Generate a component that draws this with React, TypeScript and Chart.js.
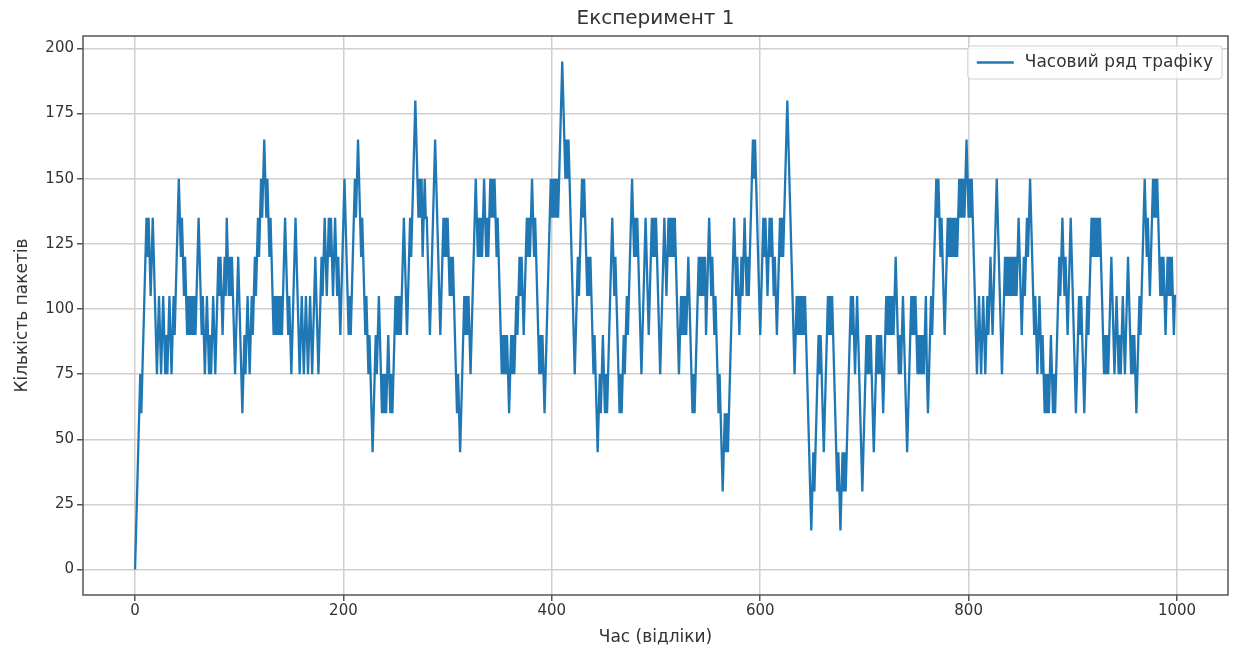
import React, { useEffect, useRef } from "react";
import { Chart, registerables } from "chart.js";

Chart.register(...registerables);

const TITLE = "Експеримент 1";
const X_LABEL = "Час (відліки)";
const Y_LABEL = "Кількість пакетів";
const SERIES_LABEL = "Часовий ряд трафіку";
const X_TICKS = [0, 200, 400, 600, 800, 1000];
const Y_TICKS = [0, 25, 50, 75, 100, 125, 150, 175, 200];

const TRAFFIC = [
  0,15,30,45,60,75,60,75,90,105,120,135,120,135,120,105,120,135,120,105,
  90,75,90,105,90,75,90,105,90,75,90,75,90,105,90,75,90,105,90,105,
  120,135,150,135,120,135,120,105,120,105,90,105,90,105,90,105,90,105,90,105,
  120,135,120,105,90,105,90,75,90,105,90,75,90,75,90,105,90,75,90,105,
  120,105,120,105,90,105,120,105,135,120,105,120,105,120,105,90,75,90,105,120,
  105,90,75,60,75,90,75,90,105,90,75,90,105,90,105,120,105,120,135,120,
  135,150,135,150,165,150,135,150,135,120,135,120,105,90,105,90,105,90,105,90,
  105,90,105,120,135,120,105,90,105,90,75,90,105,120,135,120,105,90,75,90,
  105,90,75,90,105,90,75,90,105,90,75,90,105,120,105,90,75,90,105,120,
  105,120,135,120,105,120,135,120,135,120,105,120,135,120,105,120,105,90,105,120,
  135,150,135,120,105,90,105,90,105,120,135,150,135,150,165,150,135,120,135,120,
  105,90,105,90,75,90,75,60,45,60,75,90,75,90,105,90,75,60,75,60,
  75,60,75,90,75,60,75,60,75,90,105,90,105,90,105,90,105,120,135,120,
  105,90,105,120,135,120,135,150,165,180,165,150,135,150,135,150,120,135,150,135,
  135,120,105,90,105,120,135,150,165,150,135,120,105,90,105,120,135,120,135,120,
  135,120,105,120,105,120,105,90,75,60,75,60,45,60,75,90,105,90,105,90,
  105,90,75,90,105,120,135,150,135,120,135,120,135,120,135,150,135,120,135,120,
  135,150,135,150,135,150,135,120,135,120,105,90,75,90,75,90,75,90,75,60,
  75,90,75,90,75,90,105,90,105,120,105,120,105,90,105,120,135,120,135,120,
  135,150,135,120,135,120,105,90,75,90,75,90,75,60,75,90,105,120,135,150,
  135,150,135,150,135,150,135,150,165,180,195,180,165,150,165,150,165,150,135,120,
  105,90,75,90,105,120,105,120,135,150,135,150,135,120,105,120,105,120,105,90,
  75,90,75,60,45,60,75,60,75,90,75,60,75,60,75,90,105,120,135,120,
  105,120,105,90,75,60,75,60,75,90,75,90,105,90,105,120,135,150,135,120,
  135,120,135,120,105,90,75,90,105,120,135,120,105,90,105,120,135,120,135,120,
  135,120,105,90,75,90,105,120,135,120,105,120,135,120,135,120,135,120,135,120,
  105,90,75,90,105,90,105,90,105,90,105,120,105,90,75,60,75,60,75,90,
  105,120,105,120,105,120,105,120,90,105,120,135,120,105,120,105,90,105,90,75,
  60,75,60,45,30,45,60,45,60,45,60,75,90,105,120,135,120,105,120,105,
  90,105,120,105,120,135,120,105,120,105,120,135,150,165,150,165,150,135,120,105,
  90,105,120,135,120,135,120,105,120,135,120,135,120,105,120,105,90,105,120,135,
  120,135,120,135,150,165,180,165,150,135,120,105,90,75,90,105,90,105,90,105,
  90,105,90,105,90,75,60,45,30,15,30,45,30,45,60,75,90,75,90,75,
  60,45,60,75,90,105,90,105,90,105,90,75,60,45,30,45,30,15,30,45,
  30,45,30,45,60,75,90,105,90,105,90,75,90,105,90,75,60,45,30,45,
  60,75,90,75,90,75,90,75,60,45,60,75,90,75,90,75,90,75,60,75,
  90,105,90,105,90,105,90,105,90,105,120,105,90,75,90,75,90,105,90,75,
  60,45,60,75,90,105,90,105,90,105,90,75,90,75,90,75,90,75,90,105,
  75,60,75,90,105,90,105,120,135,150,135,150,135,120,135,120,105,90,105,120,
  135,120,135,120,135,120,135,120,135,120,135,150,135,150,135,150,135,150,165,150,
  135,150,135,150,135,120,105,90,75,90,105,90,75,90,105,90,75,90,105,90,
  105,120,105,90,105,120,135,150,135,120,105,90,75,90,105,120,105,120,105,120,
  105,120,105,120,105,120,105,120,135,120,105,90,105,120,105,120,135,120,135,150,
  135,120,105,90,105,90,75,90,105,90,75,90,75,60,75,60,75,60,75,90,
  75,60,75,60,75,90,105,120,105,120,135,120,105,120,105,90,105,120,135,120,
  105,90,75,60,75,90,105,90,105,90,75,60,75,90,105,90,105,120,135,120,
  135,120,135,120,135,120,135,120,105,90,75,90,75,90,75,90,105,120,105,90,
  75,90,105,90,75,90,75,90,105,90,75,90,105,120,105,90,75,90,75,90,
  75,60,75,90,105,90,105,120,135,150,135,120,135,120,105,120,135,150,135,150,
  135,150,135,120,105,120,105,120,105,90,105,120,105,120,105,120,105,90,105,105,
];

const TIME = TRAFFIC.map((_, i) => i);

const FONT = "'DejaVu Sans', sans-serif";
const TEXT_COLOR = "#333333";
const LINE_COLOR = "#1f77b4";

const frameTitleLegend = {
  id: "frameTitleLegend",
  afterDatasetsDraw(chart: any) {
    const { ctx, chartArea } = chart;
    const { left, top, right, bottom } = chartArea;
    ctx.save();
    ctx.strokeStyle = "#555555";
    ctx.lineWidth = 1.5;
    ctx.strokeRect(left, top, right - left, bottom - top);

    // title centred over the plot area
    ctx.font = `20px ${FONT}`;
    ctx.fillStyle = TEXT_COLOR;
    ctx.textAlign = "center";
    ctx.textBaseline = "middle";
    ctx.fillText(TITLE, (left + right) / 2, 19);

    // legend
    ctx.font = `17px ${FONT}`;
    const tw = ctx.measureText(SERIES_LABEL).width;
    const w = tw + 66;
    const h = 33;
    const x = right - 6 - w;
    const y = top + 10;
    ctx.fillStyle = "rgba(255,255,255,0.85)";
    ctx.strokeStyle = "#d0d0d0";
    ctx.lineWidth = 1;
    ctx.beginPath();
    const r = 3;
    ctx.moveTo(x + r, y);
    ctx.lineTo(x + w - r, y);
    ctx.quadraticCurveTo(x + w, y, x + w, y + r);
    ctx.lineTo(x + w, y + h - r);
    ctx.quadraticCurveTo(x + w, y + h, x + w - r, y + h);
    ctx.lineTo(x + r, y + h);
    ctx.quadraticCurveTo(x, y + h, x, y + h - r);
    ctx.lineTo(x, y + r);
    ctx.quadraticCurveTo(x, y, x + r, y);
    ctx.closePath();
    ctx.fill();
    ctx.stroke();

    ctx.strokeStyle = LINE_COLOR;
    ctx.lineWidth = 2.3;
    ctx.beginPath();
    ctx.moveTo(x + 9, y + h / 2);
    ctx.lineTo(x + 46, y + h / 2);
    ctx.stroke();

    ctx.fillStyle = TEXT_COLOR;
    ctx.textAlign = "left";
    ctx.textBaseline = "middle";
    ctx.fillText(SERIES_LABEL, x + 57, y + h / 2);
    ctx.restore();
  },
};

export default function App() {
  const ref = useRef<HTMLCanvasElement | null>(null);

  useEffect(() => {
    document.body.style.margin = "0";
    const canvas = ref.current;
    if (!canvas) return;
    const points = TIME.map((t, i) => ({ x: t, y: TRAFFIC[i] }));
    const chart = new Chart(canvas, {
      type: "line",
      data: {
        datasets: [
          {
            label: SERIES_LABEL,
            data: points,
            borderColor: LINE_COLOR,
            backgroundColor: LINE_COLOR,
            borderWidth: 2.3,
            pointRadius: 0,
            tension: 0,
            fill: false,
          },
        ],
      },
      options: {
        responsive: false,
        animation: false,
        devicePixelRatio: 1,
        parsing: false,
        normalized: true,
        layout: { padding: { left: 0, right: 5, top: 36, bottom: 0 } },
        plugins: {
          legend: { display: false },
          tooltip: { enabled: false },
          title: { display: false },
        },
        scales: {
          x: {
            type: "linear",
            min: -49.95,
            max: 1048.95,
            afterBuildTicks: (s: any) => {
              s.ticks = X_TICKS.map((v) => ({ value: v }));
            },
            afterFit: (s: any) => {
              s.height = 58;
            },
            border: { display: false },
            grid: {
              color: "#d0d0d0",
              lineWidth: 1.5,
              drawTicks: true,
              tickLength: 6,
              tickColor: "#555555",
            },
            ticks: {
              color: TEXT_COLOR,
              font: { family: FONT, size: 15 },
              padding: 1,
              maxRotation: 0,
              autoSkip: false,
              callback: (v: any) => String(v),
            },
            title: {
              display: true,
              text: X_LABEL,
              color: TEXT_COLOR,
              font: { family: FONT, size: 17 },
              padding: { top: 2, bottom: 5 },
            },
          },
          y: {
            type: "linear",
            min: -9.75,
            max: 204.75,
            afterBuildTicks: (s: any) => {
              s.ticks = Y_TICKS.map((v) => ({ value: v }));
            },
            afterFit: (s: any) => {
              s.width = 83;
            },
            border: { display: false },
            grid: {
              color: "#d0d0d0",
              lineWidth: 1.5,
              drawTicks: true,
              tickLength: 6,
              tickColor: "#555555",
            },
            ticks: {
              color: TEXT_COLOR,
              font: { family: FONT, size: 15 },
              padding: 3,
              autoSkip: false,
              callback: (v: any) => String(v),
            },
            title: {
              display: true,
              text: Y_LABEL,
              color: TEXT_COLOR,
              font: { family: FONT, size: 17 },
              padding: { top: 12, bottom: 0 },
            },
          },
        },
      },
      plugins: [frameTitleLegend],
    });
    return () => chart.destroy();
  }, []);

  return (
    <div style={{ width: 1233, height: 653, background: "#ffffff" }}>
      <canvas ref={ref} width={1233} height={653} style={{ display: "block" }} />
    </div>
  );
}
